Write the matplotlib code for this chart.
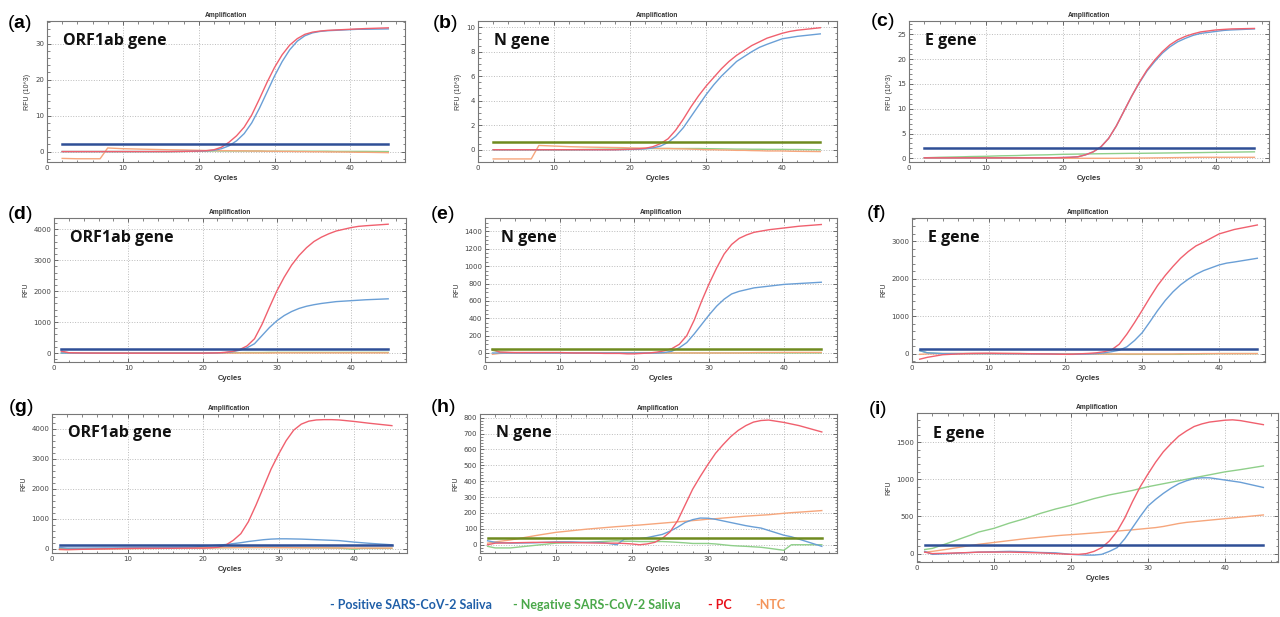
import matplotlib
matplotlib.use('Agg')
import matplotlib.pyplot as plt
from matplotlib.ticker import MultipleLocator

plt.rcParams['mathtext.fontset'] = 'custom'
plt.rcParams['mathtext.bf'] = 'Liberation Sans:bold'
plt.rcParams['mathtext.rm'] = 'Liberation Sans'

# cycle grids (top row starts at cycle 2)
cycles_top = [2, 4, 7, 8, 10, 12, 14, 16, 18, 19, 20, 21, 22, 23, 24, 25, 26,
              27, 28, 29, 30, 31, 32, 33, 34, 35, 36, 37, 38, 40, 41, 42, 45]
cycles = [1, 2, 4, 7, 8, 10, 12, 14, 16, 18, 19, 20, 21, 22, 23, 24, 25, 26,
          27, 28, 29, 30, 31, 32, 33, 34, 35, 36, 37, 38, 40, 41, 42, 45]

# (a) ORF1ab, RFU x 10^3
red_a = [0, 0, 0, 0, 0, 0, 0, 0, 0.05, 0.1, 0.15, 0.25, 0.5, 1.2, 2.6, 4.4, 6.8,
         10.2, 14.6, 19.2, 23.4, 26.9, 29.6, 31.4, 32.6, 33.2, 33.5, 33.7, 33.8, 34.0, 34.1, 34.2, 34.4]
blue_a = [0, 0, 0, 0, 0, 0, 0, 0, 0.05, 0.08, 0.12, 0.2, 0.35, 0.8, 1.6, 3.0, 5.0,
          8.0, 12.0, 16.5, 21.0, 25.0, 28.3, 30.7, 32.2, 33.0, 33.4, 33.6, 33.7, 33.9, 34.0, 34.0, 34.1]
green_a = [0, 0, 0, 0, 0, 0, 0, 0, 0.05, 0.1, 0.1, 0.1, 0.15, 0.15, 0.15, 0.15, 0.15,
           0.15, 0.15, 0.1, 0.1, 0.1, 0.1, 0.1, 0.1, 0.1, 0.1, 0.1, 0.05, 0.05, 0.05, 0.05, 0.0]
orange_a = [-1.9, -2.0, -2.0, 1.0, 0.8, 0.7, 0.6, 0.5, 0.45, 0.4, 0.35, 0.3, 0.3, 0.25, 0.25, 0.2, 0.2,
            0.15, 0.15, 0.1, 0.1, 0.05, 0.05, 0, 0, -0.05, -0.05, -0.1, -0.1, -0.15, -0.2, -0.2, -0.3]

# (b) N gene, RFU x 10^3
red_b = [0, 0, 0, 0, 0, 0, 0, 0, 0, 0.02, 0.04, 0.07, 0.12, 0.25, 0.5, 0.9, 1.6,
         2.5, 3.5, 4.4, 5.2, 5.9, 6.6, 7.2, 7.7, 8.1, 8.5, 8.8, 9.1, 9.5, 9.65, 9.75, 9.95]
blue_b = [0, 0, 0, 0, 0, 0, 0, 0, 0, 0.01, 0.02, 0.04, 0.07, 0.15, 0.3, 0.6, 1.1,
          1.8, 2.7, 3.6, 4.5, 5.3, 6.0, 6.6, 7.2, 7.6, 8.0, 8.35, 8.6, 9.05, 9.15, 9.25, 9.45]
green_b = [0, 0, 0, 0, 0, 0, 0.02, 0.04, 0.06, 0.07, 0.08, 0.09, 0.1, 0.1, 0.1, 0.1, 0.1,
           0.1, 0.1, 0.1, 0.09, 0.08, 0.07, 0.06, 0.05, 0.05, 0.04, 0.04, 0.03, 0.03, 0.02, 0.02, 0.0]
orange_b = [-0.75, -0.75, -0.75, 0.35, 0.3, 0.25, 0.22, 0.2, 0.18, 0.17, 0.15, 0.14, 0.13, 0.12, 0.1, 0.1, 0.08,
            0.07, 0.05, 0.03, 0.0, 0.0, -0.02, -0.03, -0.05, -0.05, -0.07, -0.08, -0.1, -0.1, -0.12, -0.13, -0.15]

# (c) E gene, RFU x 10^3
red_c = [0.1, 0.1, 0.1, 0.1, 0.1, 0.1, 0.1, 0.1, 0.1, 0.12, 0.15, 0.2, 0.3, 0.7, 1.3, 2.3, 4.0,
         6.5, 9.5, 12.5, 15.3, 17.8, 19.8, 21.5, 22.9, 23.9, 24.6, 25.1, 25.5, 25.9, 26.0, 26.1, 26.2]
blue_c = [0.1, 0.1, 0.1, 0.1, 0.1, 0.1, 0.1, 0.1, 0.1, 0.12, 0.15, 0.2, 0.3, 0.7, 1.3, 2.3, 4.0,
          6.5, 9.5, 12.5, 15.2, 17.6, 19.5, 21.2, 22.5, 23.5, 24.2, 24.8, 25.2, 25.6, 25.8, 25.9, 26.1]
green_c = [0.1, 0.2, 0.3, 0.35, 0.4, 0.5, 0.55, 0.65, 0.7, 0.75, 0.8, 0.82, 0.85, 0.87, 0.9, 0.92, 0.94,
           0.96, 0.98, 1.0, 1.0, 1.02, 1.04, 1.06, 1.08, 1.1, 1.12, 1.14, 1.15, 1.2, 1.22, 1.24, 1.3]
orange_c = [0, 0, 0, 0, 0, 0, 0, 0, 0, 0, 0, 0, 0, 0, 0, 0, 0,
            0, 0.02, 0.03, 0.05, 0.06, 0.08, 0.1, 0.12, 0.14, 0.16, 0.18, 0.2, 0.2, 0.2, 0.2, 0.2]

# (d) ORF1ab, RFU
red_d = [60, 10, 0, -5, -5, -5, -5, -5, -5, -5, -5, -5, 0, 5, 20, 50, 110,
         230, 460, 920, 1470, 2000, 2450, 2840, 3150, 3400, 3600, 3740, 3850, 3940, 4050, 4090, 4110, 4160]
blue_d = [0, 0, -5, -5, -5, -5, -5, -5, -5, -5, -5, -5, 0, 5, 15, 40, 90,
          170, 300, 560, 820, 1040, 1210, 1340, 1440, 1510, 1560, 1600, 1630, 1660, 1690, 1705, 1720, 1750]
green_d = [0, 0, 0, 0, 0, 0, 0, 5, 5, 5, 5, 5, 5, 5, 10, 10, 10,
           15, 15, 15, 20, 20, 20, 20, 20, 20, 20, 20, 20, 20, 20, 20, 20, 20]
orange_d = [40, 10, 0, 0, 0, 0, 0, 0, 0, 0, 0, 0, 0, 0, 0, 0, 0,
            0, 0, 0, 0, 5, 5, 5, 5, 5, 5, 5, 5, 5, 5, 5, 5, 5]

# (e) N gene, RFU
red_e = [40, 10, 5, 5, 5, 5, 0, 0, -5, -5, -10, -10, -5, 0, 10, 25, 50,
         100, 200, 380, 600, 800, 980, 1140, 1250, 1320, 1360, 1390, 1405, 1420, 1440, 1450, 1460, 1480]
blue_e = [0, 0, 0, 0, 0, 0, 0, 0, 0, 0, 0, 0, 0, 0, 0, 5, 20,
          60, 120, 220, 330, 440, 540, 620, 680, 710, 730, 750, 760, 770, 790, 795, 800, 815]
green_e = [30, 10, 0, 0, 0, 0, 0, 0, 0, 0, 0, 0, 0, 0, 0, 0, 0,
           0, 0, 0, 0, 0, 0, 0, 0, 0, 0, 0, 0, 0, 0, 0, 0, 0]
orange_e = [-15, -5, 0, 0, 0, 0, 0, 0, 0, 0, 0, 0, 0, 0, 0, 0, 0,
            0, 0, 0, 0, 0, 0, 0, 0, 0, 2, 4, 5, 5, 6, 6, 6, 6]

# (f) E gene, RFU
red_f = [-150, -100, -30, 0, 5, 10, 5, 0, -5, -10, -15, -20, -15, -5, 5, 20, 50,
         100, 250, 520, 830, 1160, 1500, 1820, 2090, 2330, 2550, 2730, 2880, 2980, 3200, 3260, 3320, 3440]
blue_f = [80, 20, 0, 0, 0, 0, -5, -5, -10, -10, -15, -20, -20, -15, -10, 0, 20,
          50, 90, 180, 350, 560, 850, 1150, 1420, 1650, 1840, 1990, 2120, 2220, 2370, 2420, 2450, 2550]
green_f = [80, 20, 0, 0, 0, 0, 0, 0, -5, -10, -10, -10, -10, -10, -10, -10, -10,
           -15, -15, -20, -20, -20, -20, -20, -20, -20, -20, -15, -15, -10, 0, 0, 0, 0]
orange_f = [-20, -10, 0, 0, 0, 0, 0, 0, -5, -10, -10, -10, -10, -10, -10, -10, -10,
            -10, -10, -10, -10, -10, -10, -10, -10, -10, -5, -5, -5, 0, 0, 0, 0, 0]

# (g) ORF1ab, RFU
red_g = [-20, -30, -20, -5, 0, 10, 15, 15, 15, 20, 20, 20, 30, 50, 120, 280, 500,
         900, 1450, 2050, 2650, 3150, 3600, 3950, 4150, 4250, 4290, 4300, 4300, 4290, 4240, 4210, 4180, 4100]
blue_g = [40, 20, 20, 25, 25, 30, 35, 40, 45, 50, 60, 80, 100, 120, 140, 170, 200,
          240, 270, 300, 320, 330, 330, 325, 320, 310, 300, 290, 280, 270, 220, 200, 180, 130]
green_g = [0, 0, 0, 5, 5, 10, 15, 20, 25, 30, 30, 30, 30, 35, 35, 40, 40,
           40, 40, 40, 40, 40, 40, 35, 35, 35, 30, 30, 25, 20, -20, 10, 10, 10]
orange_g = [-30, -30, -20, -10, -5, 0, 5, 10, 15, 20, 25, 25, 30, 30, 35, 35, 40,
            40, 40, 40, 40, 35, 35, 35, 30, 30, 30, 30, 25, 25, 20, 20, 20, 20]

# (h) N gene, RFU
red_h = [0, 10, 12, 15, 15, 15, 14, 12, 10, 10, 8, 5, 0, 5, 15, 40, 80,
         150, 250, 350, 430, 505, 575, 630, 680, 720, 750, 772, 782, 785, 770, 760, 750, 710]
blue_h = [25, 15, 10, 12, 14, 18, 18, 15, 15, 0, 35, 40, 40, 45, 55, 65, 85,
          110, 140, 158, 168, 167, 160, 150, 140, 130, 120, 112, 105, 90, 60, 50, 35, -10]
green_h = [-10, -20, -20, -5, 0, 10, 12, 15, 20, 25, 22, 22, 20, 20, 20, 20, 18,
           15, 12, 8, 8, 8, 5, 0, -5, -8, -10, -13, -16, -22, -35, 0, 0, 0]
orange_h = [10, 18, 30, 55, 63, 78, 88, 98, 106, 114, 117, 121, 124, 128, 132, 136, 140,
            144, 148, 152, 156, 161, 164, 168, 172, 176, 180, 183, 186, 189, 198, 202, 205, 215]

# (i) E gene, RFU
red_i = [20, 0, 5, 15, 20, 20, 20, 15, 10, 0, -5, -10, -10, 0, 30, 80, 170,
         300, 480, 700, 900, 1070, 1230, 1370, 1480, 1580, 1650, 1710, 1745, 1770, 1795, 1800, 1790, 1735]
blue_i = [30, -10, 0, 15, 20, 25, 30, 25, 15, 10, 0, -10, -15, -20, -20, -10, 30,
          80, 200, 350, 500, 640, 730, 810, 880, 940, 980, 1010, 1020, 1020, 990, 975, 960, 890]
green_i = [55, 70, 140, 250, 290, 340, 410, 470, 540, 600, 625, 650, 680, 710, 740, 765, 790,
           810, 830, 850, 875, 900, 920, 940, 960, 980, 1000, 1020, 1040, 1060, 1100, 1115, 1130, 1180]
orange_i = [20, 30, 60, 110, 125, 150, 175, 200, 220, 240, 248, 255, 262, 270, 278, 286, 295,
            303, 312, 320, 330, 340, 350, 365, 385, 405, 420, 430, 440, 450, 470, 480, 490, 520]

# threshold lines per panel: (value, kind)
thresholds = {'a': (2.1, 'blue'), 'b': (0.62, 'olive'), 'c': (2.15, 'blue'),
              'd': (140, 'blue'), 'e': (42, 'olive'), 'f': (120, 'blue'),
              'g': (120, 'blue'), 'h': (45, 'olive'), 'i': (120, 'blue')}
genes = {'a': 'ORF1ab gene', 'b': 'N gene', 'c': 'E gene',
         'd': 'ORF1ab gene', 'e': 'N gene', 'f': 'E gene',
         'g': 'ORF1ab gene', 'h': 'N gene', 'i': 'E gene'}
legend_labels = ['- Positive SARS-CoV-2 Saliva', '- Negative SARS-CoV-2 Saliva', '- PC', '-NTC']

series = {
    'a': (blue_a, green_a, red_a, orange_a), 'b': (blue_b, green_b, red_b, orange_b),
    'c': (blue_c, green_c, red_c, orange_c), 'd': (blue_d, green_d, red_d, orange_d),
    'e': (blue_e, green_e, red_e, orange_e), 'f': (blue_f, green_f, red_f, orange_f),
    'g': (blue_g, green_g, red_g, orange_g), 'h': (blue_h, green_h, red_h, orange_h),
    'i': (blue_i, green_i, red_i, orange_i),
}

# layout in pixels: left, right, top, bottom ; xlim max ; ylim ; major, minor
layout = {
    'a': ((47, 405, 21, 162), 47.2, (-2.9, 36.3), 10, 2),
    'b': ((478, 837, 21, 162), 47.2, (-1.0, 10.5), 2, 0.5),
    'c': ((909, 1269, 21, 162), 46.9, (-0.75, 27.7), 5, 1),
    'd': ((54, 406, 218, 362), 47.4, (-290, 4360), 1000, 200),
    'e': ((485, 837, 218, 362), 47.1, (-104, 1555), 200, 50),
    'f': ((912, 1265, 218, 362), 46.0, (-225, 3627), 1000, 200),
    'g': ((52, 407, 414, 553), 47.0, (-143, 4488), 1000, 200),
    'h': ((480, 837, 414, 553), 47.0, (-52, 823), 100, 20),
    'i': ((917, 1278, 413, 562), 46.9, (-113, 1892), 500, 100),
}
# panel letter positions (pixels, left / vertical centre)
letter_pos = {'a': (7, 23), 'b': (432, 23), 'c': (870, 21),
              'd': (7, 215), 'e': (430, 215), 'f': (866, 213),
              'g': (8, 407), 'h': (430, 408), 'i': (868, 410)}

C_BLUE = '#6a9fd6'
C_GREEN = '#8fcf8a'
C_RED = '#f0606e'
C_ORANGE = '#f6a67c'
C_THR = {'blue': '#2f4f96', 'olive': '#6f8a1f'}

W, H = 1280, 617
fig = plt.figure(figsize=(W / 100, H / 100), dpi=100)

for key in 'abcdefghi':
    (l, r, t, b), xmax, ylim, major, minor = layout[key]
    ax = fig.add_axes([l / W, 1 - b / H, (r - l) / W, (b - t) / H])
    x = cycles_top if key in 'abc' else cycles
    blue, green, red, orange = series[key]
    ax.plot(x, green, color=C_GREEN, lw=1.0)
    ax.plot(x, orange, color=C_ORANGE, lw=1.0)
    ax.plot(x, blue, color=C_BLUE, lw=1.0)
    ax.plot(x, red, color=C_RED, lw=1.0)
    thr, kind = thresholds[key]
    ax.plot([x[0], 45], [thr, thr], color=C_THR[kind], lw=1.8)

    ax.set_xlim(0, xmax)
    ax.set_ylim(*ylim)
    ax.xaxis.set_major_locator(MultipleLocator(10))
    ax.xaxis.set_minor_locator(MultipleLocator(2))
    ax.yaxis.set_major_locator(MultipleLocator(major))
    ax.yaxis.set_minor_locator(MultipleLocator(minor))
    ax.tick_params(which='both', direction='in', top=True, right=True,
                   labelsize=5, labelcolor='#444444', color='#555555', pad=2)
    ax.tick_params(which='major', length=3, width=0.6)
    ax.tick_params(which='minor', length=1.8, width=0.5)
    ax.grid(True, which='major', linestyle=':', color='#bbbbbb', lw=0.7)
    for sp in ax.spines.values():
        sp.set_color('#777777')
        sp.set_linewidth(0.8)

    ax.set_title('Amplification', fontsize=4.8, fontweight='bold', pad=3,
                 color='#333333', family='Liberation Sans')
    ax.set_xlabel('Cycles', fontsize=5.5, fontweight='bold', labelpad=3,
                  color='#333333', family='Liberation Sans')
    ax.set_ylabel('RFU (10^3)' if key in 'abc' else 'RFU', fontsize=5,
                  labelpad=3, color='#333333', family='Liberation Sans')

    ax.text(0.045, 0.86, genes[key], transform=ax.transAxes, fontsize=11.5,
            fontweight='bold', family='Open Sans', va='center', ha='left',
            color='#111111')

    px, py = letter_pos[key]
    fig.text(px / W, 1 - py / H, '(' + r'$\mathbf{' + key + '}$' + ')',
             fontsize=14, family='Liberation Sans', va='center', ha='left')

legend_x = [330, 513, 708, 755]
legend_colors = ['#1f5fa8', '#4aa84a', '#e8101a', '#f4945a']
for lx, lab, col in zip(legend_x, legend_labels, legend_colors):
    fig.text(lx / W, 1 - 605 / H, lab, fontsize=9, fontweight='bold',
             family='Lato', color=col, va='center', ha='left')

fig.savefig('out.png', dpi=100)
